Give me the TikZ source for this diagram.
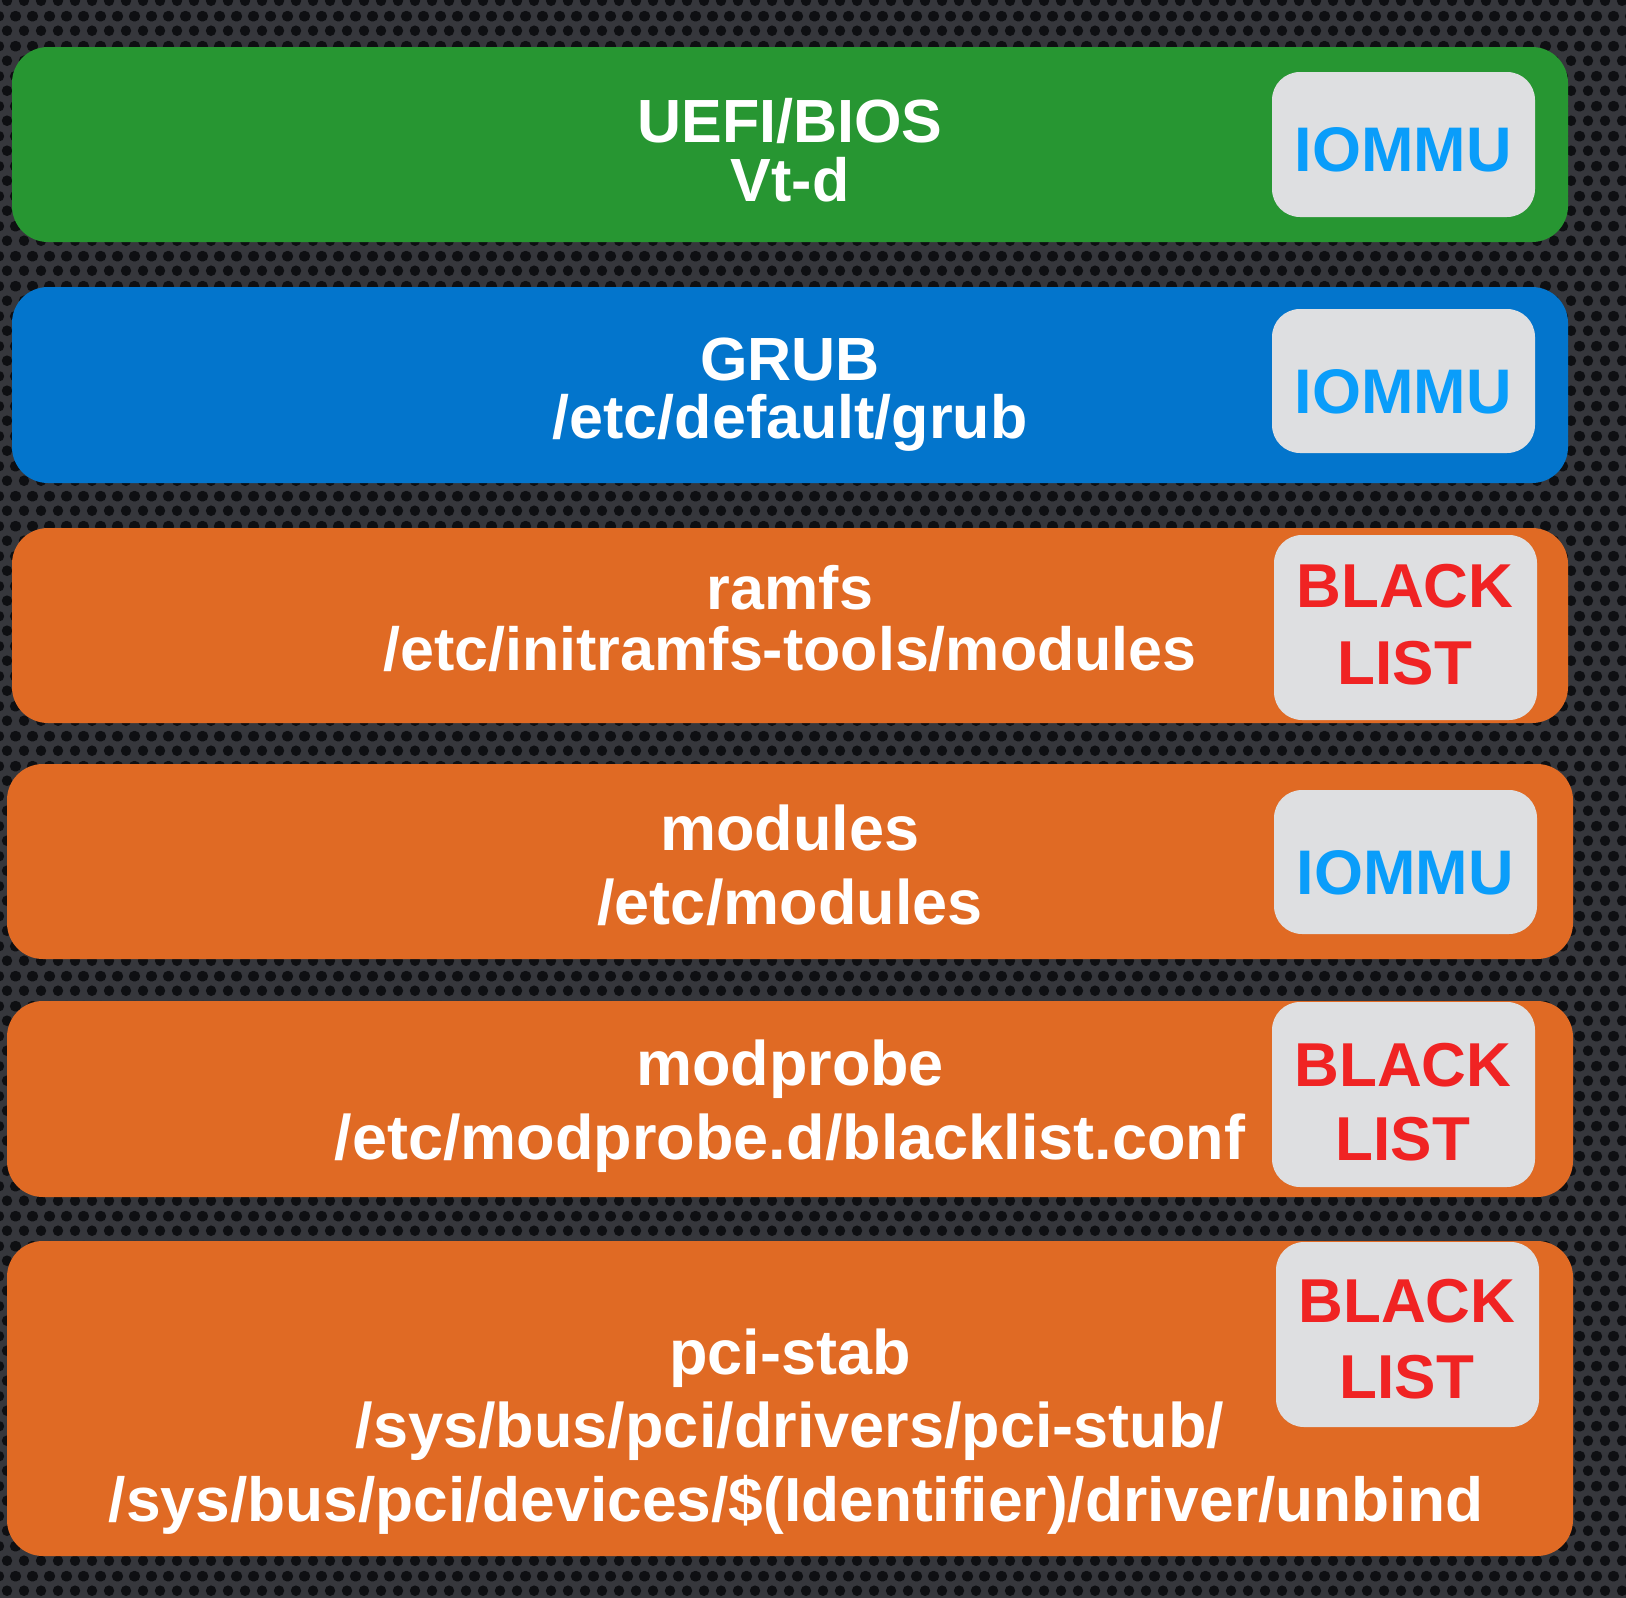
\documentclass[tikz,border=0pt]{standalone}
\usepackage{fontspec}
\setmainfont{Liberation Sans}
\usetikzlibrary{patterns}
\definecolor{bgbase}{RGB}{54,55,60}
\definecolor{bghole}{RGB}{14,15,18}
\definecolor{cgreen}{RGB}{39,150,50}
\definecolor{cblue}{RGB}{3,117,204}
\definecolor{corange}{RGB}{224,106,36}
\definecolor{cbadge}{RGB}{222,223,225}
\definecolor{ciommu}{RGB}{10,157,250}
\definecolor{cred}{RGB}{240,35,35}
\pgfdeclarepatternformonly{mesh}{\pgfpoint{0pt}{0pt}}{\pgfpoint{17pt}{30pt}}{\pgfpoint{17pt}{30pt}}{%
  \pgfpathcircle{\pgfpoint{8.5pt}{7.5pt}}{5.5pt}%
  \pgfpathcircle{\pgfpoint{0pt}{22.5pt}}{5.5pt}%
  \pgfpathcircle{\pgfpoint{17pt}{22.5pt}}{5.5pt}%
  \pgfusepath{fill}}
\begin{document}
\begin{tikzpicture}[x=1pt,y=-1pt,
  bar/.style={rounded corners=36pt},
  badge/.style={fill=cbadge, rounded corners=28pt},
  lbl/.style={text=white, font=\fontsize{61}{61}\selectfont\bfseries, anchor=base, inner sep=0pt},
  lblb/.style={text=white, font=\fontsize{63}{63}\selectfont\bfseries, anchor=base, inner sep=0pt},
  lblc/.style={text=white, font=\fontsize{62.3}{62.3}\selectfont\bfseries, anchor=base, inner sep=0pt},
  iommu/.style={text=ciommu, font=\fontsize{63}{63}\selectfont\bfseries, anchor=base, inner sep=0pt},
  black/.style={text=cred, font=\fontsize{62}{62}\selectfont\bfseries, anchor=base, inner sep=0pt}]
\useasboundingbox (0,0) rectangle (1626,1598);
% background
\fill[bgbase] (0,0) rectangle (1626,1598);
\fill[pattern=mesh, pattern color=bghole] (0,0) rectangle (1626,1598);
% bars
\fill[bar, cgreen] (12,47) rectangle (1568,242);
\fill[bar, cblue] (12,287) rectangle (1568,483);
\fill[bar, corange] (12,528) rectangle (1568,723);
\fill[bar, corange] (7,764) rectangle (1573,959);
\fill[bar, corange] (7,1001) rectangle (1573,1197);
\fill[bar, corange] (7,1241) rectangle (1573,1556);
% badges
\fill[badge] (1272,72) rectangle (1535,217);
\fill[badge] (1272,309) rectangle (1535,453);
\fill[badge] (1274,535) rectangle (1537,720);
\fill[badge] (1274,790) rectangle (1537,934);
\fill[badge] (1272,1002) rectangle (1535,1187);
\fill[badge] (1276,1242) rectangle (1539,1427);
% badge texts
\node[iommu] (b1) at (1403,171) {IOMMU};
\node[iommu] (b2) at (1403,413) {IOMMU};
\node[black] (b3a) at (1405,607) {BLACK};
\node[black] (b3b) at (1405,684) {LIST};
\node[iommu] (b4) at (1405,894) {IOMMU};
\node[black] (b5a) at (1403,1086) {BLACK};
\node[black] (b5b) at (1403,1160) {LIST};
\node[black] (b6a) at (1407,1322) {BLACK};
\node[black] (b6b) at (1407,1398) {LIST};
% main texts
\node[lbl] (t1a) at (790,142) {UEFI/BIOS};
\node[lbl] (t1b) at (790,201) {Vt-d};
\node[lbl] (t2a) at (790,380) {GRUB};
\node[lbl] (t2b) at (790,438) {/etc/default/grub};
\node[lbl] (t3a) at (790,609) {ramfs};
\node[lbl] (t3b) at (790,670) {/etc/initramfs-tools/modules};
\node[lblb] (t4a) at (790,850) {modules};
\node[lblb] (t4b) at (790,924) {/etc/modules};
\node[lblb] (t5a) at (790,1085) {modprobe};
\node[lblb] (t5b) at (790,1159) {/etc/modprobe.d/blacklist.conf};
\node[lblb] (t6a) at (790,1374) {pci-stab};
\node[lblb] (t6b) at (790,1447) {/sys/bus/pci/drivers/pci-stub/};
\node[lblc] (t6c) at (796,1521) {/sys/bus/pci/devices/\$(Identifier)/driver/unbind};
\end{tikzpicture}
\end{document}
